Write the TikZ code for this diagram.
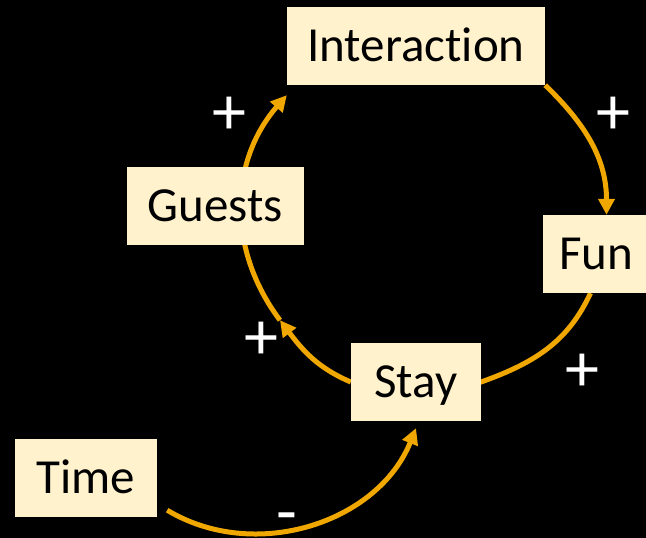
\documentclass[tikz,border=0pt]{standalone}
\usepackage{fontspec}
\setmainfont{Carlito}[Ligatures=NoCommon]
\usepackage{tikz}
\usetikzlibrary{positioning,arrows.meta,backgrounds}
\definecolor{boxfill}{RGB}{255,242,204}
\definecolor{loopline}{RGB}{240,168,0}
\tikzset{
  factor/.style={fill=boxfill,text=black,font=\fontsize{49}{58}\selectfont,minimum height=78pt,inner xsep=0pt,text height=31.5pt,text depth=0pt},
  link/.style={draw=loopline,line width=5pt,-{Triangle[length=16pt,width=16pt]}},
  sign/.style={text=white,font=\fontsize{68}{72}\selectfont,inner sep=0pt}
}

\begin{document}
\begin{tikzpicture}[x=1pt,y=1pt]
      \begin{scope}[on background layer]
        \fill[black] (0,0) rectangle (646,-538);
      \end{scope}
      \useasboundingbox (0,0) rectangle (646,-538);
      \node[factor,minimum width=258pt] (inter) at (416,-46) {Interaction};
      \node[factor,minimum width=177pt] (guests) at (215.5,-206) {Guests};
      \node[factor,minimum width=107pt] (fun) at (596.5,-254) {Fun};
      \node[factor,minimum width=130pt] (stay) at (416,-382) {Stay};
      \node[factor,minimum width=142pt] (time) at (86,-478) {Time};
      \coordinate[below=10pt of inter.south west] (itip);
      \coordinate[below right=75pt and 64.5pt of guests.south] (gtip);
      \begin{scope}[on background layer]
        \draw[link] (inter.south east) to[out=-44,in=90] ([xshift=10pt]fun.north);
        \draw[link,shorten >=-22pt] ([xshift=-6pt]fun.south) to[out=-115,in=19] (stay.east);
        \draw[link] (stay.west) to[out=157,in=-53] (gtip);
        \draw[link] (gtip) to[out=127,in=229] (itip);
        \draw[link] ([shift={(10pt,7pt)}]time.south east) to[out=-31,in=248] ([yshift=-7pt]stay.south);
      \end{scope}
      \node[sign] (sgi) at (229.5,-116) {+};
      \node[sign] (sif) at (613.5,-116) {+};
      \node[sign] (ssg) at (261.5,-340.5) {+};
      \node[sign] (sfs) at (582,-373) {+};
      \node[sign] (sts) at (286.5,-524) {-};
  \end{tikzpicture}
\end{document}
